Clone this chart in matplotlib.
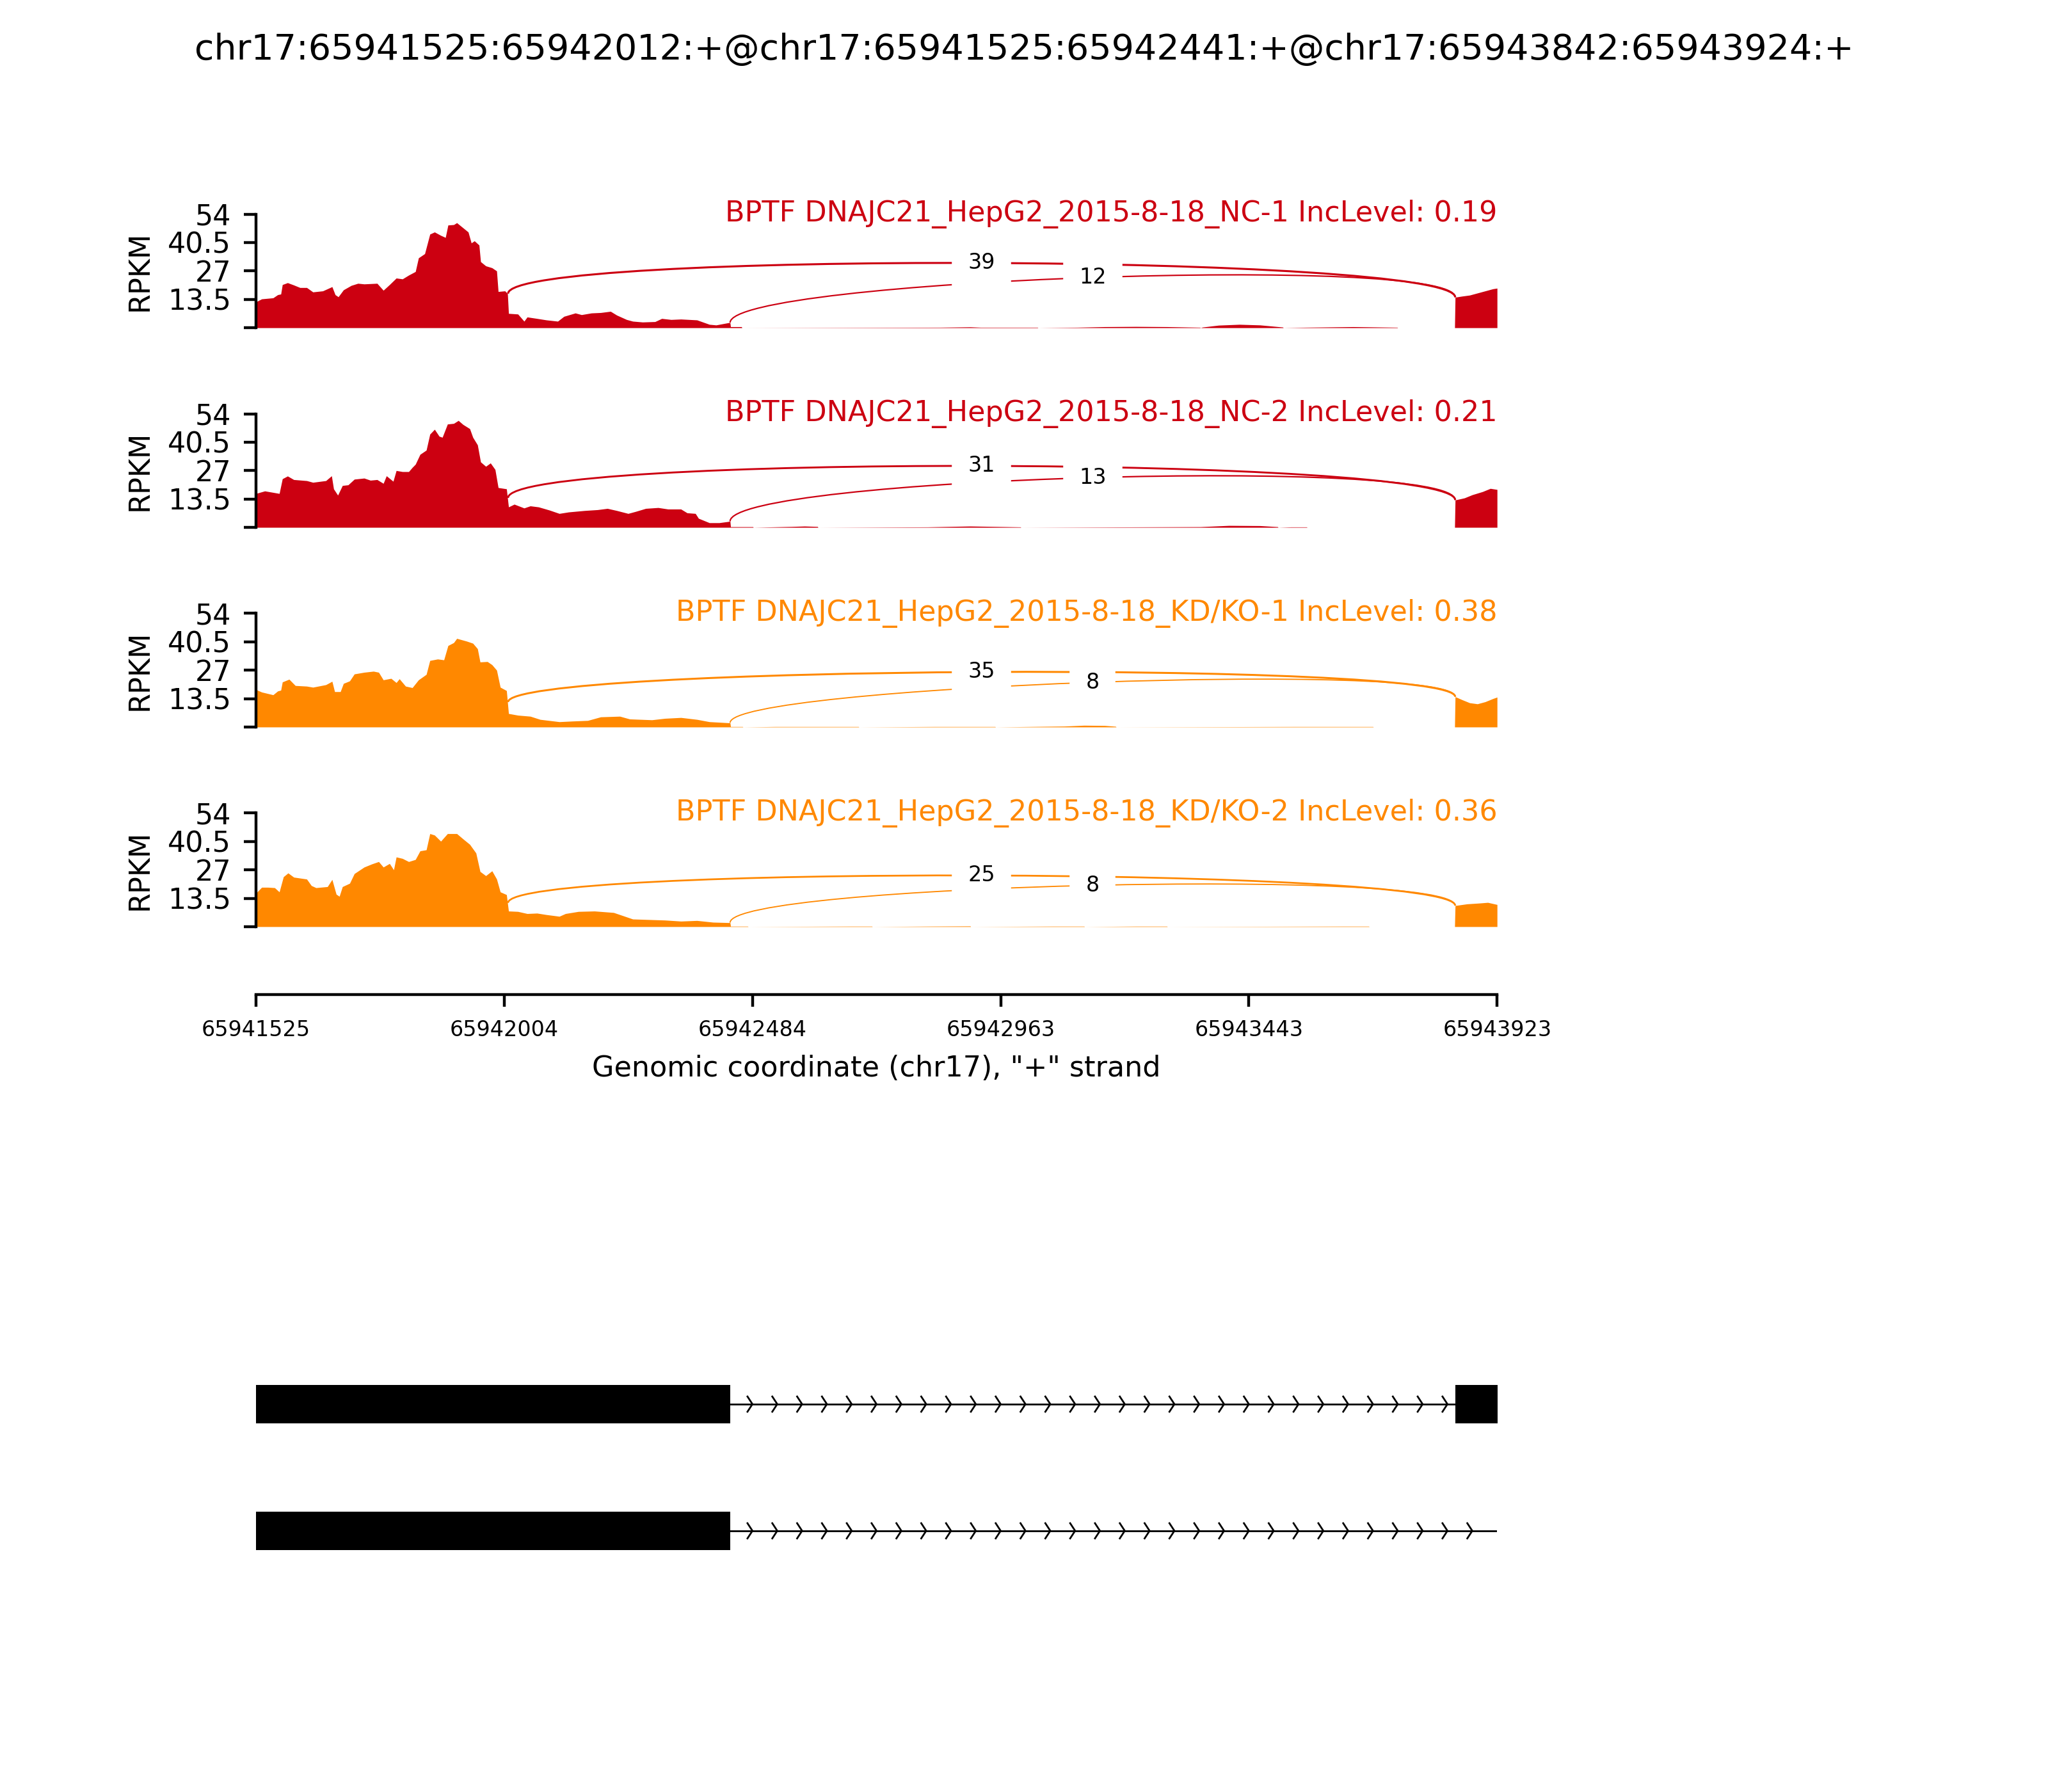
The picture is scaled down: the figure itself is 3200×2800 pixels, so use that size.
import numpy as np
import matplotlib
matplotlib.use('Agg')
import matplotlib.pyplot as plt
from matplotlib.path import Path
from matplotlib.patches import PathPatch, Rectangle

# event / region
event_title = 'chr17:65941525:65942012:+@chr17:65941525:65942441:+@chr17:65943842:65943924:+'
region_start = 65941525
region_end = 65943923
xtick_labels = ['65941525', '65942004', '65942484', '65942963', '65943443', '65943923']

sample_names = ['BPTF DNAJC21_HepG2_2015-8-18_NC-1',
                'BPTF DNAJC21_HepG2_2015-8-18_NC-2',
                'BPTF DNAJC21_HepG2_2015-8-18_KD/KO-1',
                'BPTF DNAJC21_HepG2_2015-8-18_KD/KO-2']
inc_levels = [0.19, 0.21, 0.38, 0.36]
sample_colors = ['#CC0011', '#CC0011', '#FF8800', '#FF8800']

yticks = [0, 13.5, 27, 40.5, 54]
ytick_labels = ['', '13.5', '27', '40.5', '54']

# coverage, positions as offsets (nt) from region_start, values in RPKM
nc1_pos = [0, 11, 33, 42, 48, 51, 61, 73, 85, 98, 110, 129, 147, 153, 159, 169, 184, 197, 209,
           234, 246, 258, 271, 283, 295, 308, 314, 326, 336, 345, 357, 366, 371, 382, 388, 400,
           410, 416, 422, 431, 434, 444, 456, 465, 468, 481, 486, 488, 506, 518, 524, 543, 561,
           583, 595, 617, 629, 648, 666, 685, 697, 716, 728, 747, 771, 784, 802, 821, 852, 876,
           889, 913, 916, 917, 938, 939, 1322, 1380, 1400, 1510, 1511, 1587, 1640, 1700, 1760,
           1824, 1825, 1829, 1860, 1900, 1940, 1984, 1985, 2028, 2120, 2205, 2206, 2316,
           2317, 2330, 2345, 2360, 2375, 2390, 2398]
nc1_rpkm = [12.3, 13.7, 14.2, 15.7, 16.0, 20.5, 21.4, 20.3, 19.1, 19.1, 17.0, 17.5, 19.5, 15.7,
            14.7, 18.0, 20.1, 21.1, 20.8, 21.1, 17.8, 20.5, 23.6, 23.2, 25.0, 26.7, 33.2, 35.2,
            44.5, 45.5, 43.9, 42.9, 48.8, 49.0, 49.9, 47.5, 45.5, 40.3, 41.3, 39.3, 31.4, 29.4,
            28.5, 27.0, 17.2, 17.5, 16.2, 6.8, 6.5, 3.1, 5.1, 4.4, 3.7, 3.1, 5.4, 7.0, 6.2, 7.0,
            7.2, 7.8, 6.0, 3.9, 3.1, 2.7, 2.9, 4.4, 3.9, 4.1, 3.7, 1.6, 1.3, 2.4, 2.4, 0.5, 0.5,
            0, 0.2, 0.4, 0.2, 0.2, 0, 0.2, 0.5, 0.6, 0.5, 0.2, 0, 0.3, 1.2, 1.6, 1.3, 0.3, 0, 0.2,
            0.5, 0.2, 0, 0, 14.5, 15.0, 15.5, 16.5, 17.5, 18.5, 18.8]

nc2_pos = [0, 17, 45, 51, 61, 73, 98, 110, 135, 146, 150, 158, 167, 178, 190, 209, 221, 234, 246,
           252, 265, 271, 283, 295, 302, 308, 317, 329, 336, 345, 354, 360, 370, 382, 391, 400,
           413, 419, 428, 434, 444, 453, 462, 468, 484, 488, 499, 518, 530, 546, 567, 586, 604,
           635, 660, 679, 697, 719, 734, 753, 777, 796, 821, 833, 849, 855, 876, 895, 916, 917,
           960, 961, 1035, 1060, 1085, 1086, 1298, 1380, 1477, 1478, 1825, 1880, 1940, 1974,
           1975, 2000, 2030, 2031, 2316, 2317, 2335, 2350, 2370, 2385, 2398]
nc2_rpkm = [16.1, 17.3, 16.1, 23.1, 24.4, 22.7, 22.2, 21.4, 22.2, 24.5, 18.3, 15.3, 19.9, 20.2,
            22.9, 23.4, 22.4, 22.7, 20.9, 24.5, 21.9, 27.0, 26.5, 26.5, 28.5, 30.0, 34.7, 36.7,
            44.3, 46.6, 43.3, 42.8, 49.1, 49.4, 50.8, 48.9, 46.9, 42.8, 39.2, 31.1, 29.0, 30.6,
            27.5, 18.9, 18.3, 9.7, 11.0, 9.2, 10.2, 9.7, 8.2, 6.6, 7.3, 8.0, 8.4, 9.0, 8.0, 6.6,
            7.6, 9.0, 9.4, 8.7, 8.7, 6.9, 6.6, 4.3, 2.2, 2.2, 2.9, 0.3, 0.3, 0, 0.4, 0.6, 0.4, 0,
            0.2, 0.6, 0.2, 0, 0.3, 0.9, 0.8, 0.3, 0, 0.2, 0.2, 0, 0, 13.0, 14.0, 15.5, 17.0,
            18.5, 18.0]

kd1_pos = [0, 11, 33, 42, 48, 51, 64, 76, 98, 110, 135, 147, 152, 163, 169, 181, 190, 209, 227,
           237, 246, 261, 271, 277, 289, 302, 314, 329, 336, 351, 363, 371, 382, 388, 407, 419,
           428, 433, 447, 456, 465, 472, 484, 488, 506, 530, 549, 586, 611, 641, 666, 703, 722,
           765, 790, 821, 852, 876, 913, 916, 917, 940, 941, 1004, 1164, 1165, 1311, 1428, 1429,
           1562, 1600, 1640, 1661, 1662, 2008, 2158, 2159, 2316, 2317, 2330, 2345, 2360, 2375,
           2390, 2398]
kd1_rpkm = [17.8, 16.6, 15.3, 17.1, 17.5, 21.4, 22.7, 19.7, 19.4, 18.9, 20.1, 21.7, 16.8, 16.8,
            20.7, 21.9, 25.2, 26.0, 26.5, 26.0, 22.4, 23.1, 21.1, 22.9, 19.4, 18.7, 22.4, 25.0,
            31.6, 32.3, 31.9, 38.7, 40.1, 42.1, 40.8, 39.8, 37.2, 30.9, 31.1, 29.6, 27.0, 18.9,
            17.3, 6.4, 5.6, 5.1, 3.6, 2.5, 2.8, 3.1, 4.8, 5.1, 3.8, 3.4, 4.1, 4.5, 3.6, 2.5, 2.0,
            2.0, 0.2, 0.2, 0, 0.2, 0.2, 0, 0.2, 0.2, 0, 0.4, 0.8, 0.7, 0.3, 0, 0.2, 0.2, 0, 0,
            14.4, 13.0, 11.5, 11.0, 12.0, 13.5, 14.2]

kd2_pos = [0, 11, 23, 36, 45, 53, 62, 73, 98, 107, 116, 138, 147, 155, 161, 167, 181, 190, 209,
           224, 237, 246, 258, 266, 271, 283, 295, 308, 317, 329, 336, 345, 357, 370, 388, 400,
           413, 425, 433, 444, 456, 465, 472, 484, 488, 506, 524, 543, 561, 586, 598, 623, 654,
           691, 703, 728, 765, 790, 821, 852, 883, 913, 916, 917, 950, 951, 1150, 1190, 1191,
           1300, 1380, 1381, 1540, 1600, 1601, 1700, 1760, 1761, 2100, 2150, 2151, 2316, 2317,
           2340, 2365, 2380, 2398]
kd2_rpkm = [15.9, 18.7, 18.7, 18.5, 16.5, 23.7, 25.5, 23.5, 22.6, 19.5, 18.5, 19.0, 22.4, 15.4,
            14.4, 19.0, 20.6, 25.2, 28.3, 29.8, 30.9, 28.3, 30.0, 27.0, 33.1, 32.4, 30.9, 31.9,
            36.0, 36.5, 44.2, 43.5, 40.6, 44.2, 44.2, 41.7, 39.1, 35.0, 26.2, 24.2, 26.5, 22.6,
            16.5, 15.2, 7.4, 7.2, 6.2, 6.4, 5.7, 4.9, 6.2, 7.2, 7.4, 6.7, 5.7, 3.6, 3.3, 3.1,
            2.6, 2.9, 2.1, 1.9, 1.9, 0.2, 0.2, 0, 0.2, 0.2, 0, 0.2, 0.3, 0, 0.2, 0.2, 0, 0.2,
            0.2, 0, 0.2, 0.2, 0, 0, 10.0, 10.8, 11.2, 11.5, 10.5]

coverage_pos = [nc1_pos, nc2_pos, kd1_pos, kd2_pos]
coverage_rpkm = [nc1_rpkm, nc2_rpkm, kd1_rpkm, kd2_rpkm]

# junctions (donor end, acceptor start) and read counts per sample
junctions = [(65942012, 65943842), (65942441, 65943842)]
junction_counts = [[39, 12], [31, 13], [35, 8], [25, 8]]

# gene model: exons and intron span of each transcript
tx_exons = [[(65941525, 65942012), (65942012, 65942441), (65943842, 65943924)],
            [(65941525, 65942012), (65942012, 65942441)]]
tx_introns = [(65942441, 65943842), (65942441, 65943924)]

fig = plt.figure(figsize=(8, 7), dpi=400)
fig.suptitle(event_title, fontsize=10, y=0.9723, va='center')

left, width = 0.125, 0.606
panel_h = 0.0634
for i in range(len(sample_names)):
    bottom = 0.8171 - i * 0.1114
    ax = fig.add_axes([left, bottom, width, panel_h])
    x = region_start + np.array(coverage_pos[i])
    y = np.array(coverage_rpkm[i])
    color = sample_colors[i]
    ax.fill_between(x, y, 0, color=color, lw=0)

    # junction arcs, height scaled on this sample's max like sashimi plot
    h = 0.4125 * y.max()
    for (ss1, ss2), n in zip(junctions, junction_counts[i]):
        y1 = np.interp(ss1 - 1, x, y)
        y2 = np.interp(ss2, x, y)
        pts = [(ss1, y1), (ss1, y1 + h), (ss2, y2 + h), (ss2, y2)]
        path = Path(pts, [Path.MOVETO, Path.CURVE4, Path.CURVE4, Path.CURVE4])
        ax.add_patch(PathPatch(path, ec=color, fc='none', lw=0.35 * np.log10(n + 1)))
        mx = (ss1 + ss2) / 2
        my = (y1 + y2) / 2 + 0.75 * h
        ax.text(mx, my, str(n), fontsize=6, ha='center', va='center',
                backgroundcolor='w')

    ax.text(region_end, 54, f'{sample_names[i]} IncLevel: {inc_levels[i]}',
            fontsize=8, color=color, ha='right', va='center')
    ax.set_xlim(region_start, region_end)
    ax.set_ylim(0, 54)
    for s in ['top', 'right', 'bottom']:
        ax.spines[s].set_visible(False)
    ax.set_xticks([])
    ax.set_yticks(yticks)
    ax.set_yticklabels(ytick_labels, fontsize=8)
    ax.set_ylabel('RPKM', fontsize=8)

# genomic coordinate axis
ax_x = fig.add_axes([left, 0.445, width, 0.01])
ax_x.set_xlim(region_start, region_end)
ax_x.set_xticks(np.linspace(region_start, region_end, len(xtick_labels)))
ax_x.set_xticklabels(xtick_labels, fontsize=6)
ax_x.set_yticks([])
for s in ['top', 'right', 'left']:
    ax_x.spines[s].set_visible(False)
ax_x.patch.set_visible(False)
ax_x.set_xlabel('Genomic coordinate (chr17), "+" strand', fontsize=8)

# gene model
ax_g = fig.add_axes([left, 0.1104, width, 0.1414])
ax_g.set_xlim(region_start, region_end)
ax_g.set_ylim(-1.5, 0.5)
ax_g.axis('off')
exon_h = 0.3
narrows = 50
arrow_step = (region_end - region_start) / narrows
spread = 0.2 * arrow_step
for k in range(len(tx_exons)):
    yloc = -k
    for s, e in tx_exons[k]:
        ax_g.add_patch(Rectangle((s, yloc - exon_h / 2), e - s, exon_h,
                                 fc='k', ec='none', clip_on=False))
    a, b = tx_introns[k]
    ax_g.plot([a, b], [yloc, yloc], color='k', lw=0.5)
    for j in range(narrows):
        loc = region_start + j * arrow_step
        if loc - spread >= a and loc <= b:
            ax_g.plot([loc - spread, loc, loc - spread],
                      [yloc - exon_h / 5, yloc, yloc + exon_h / 5], color='k', lw=0.5)

fig.savefig('out.png', dpi=400)
